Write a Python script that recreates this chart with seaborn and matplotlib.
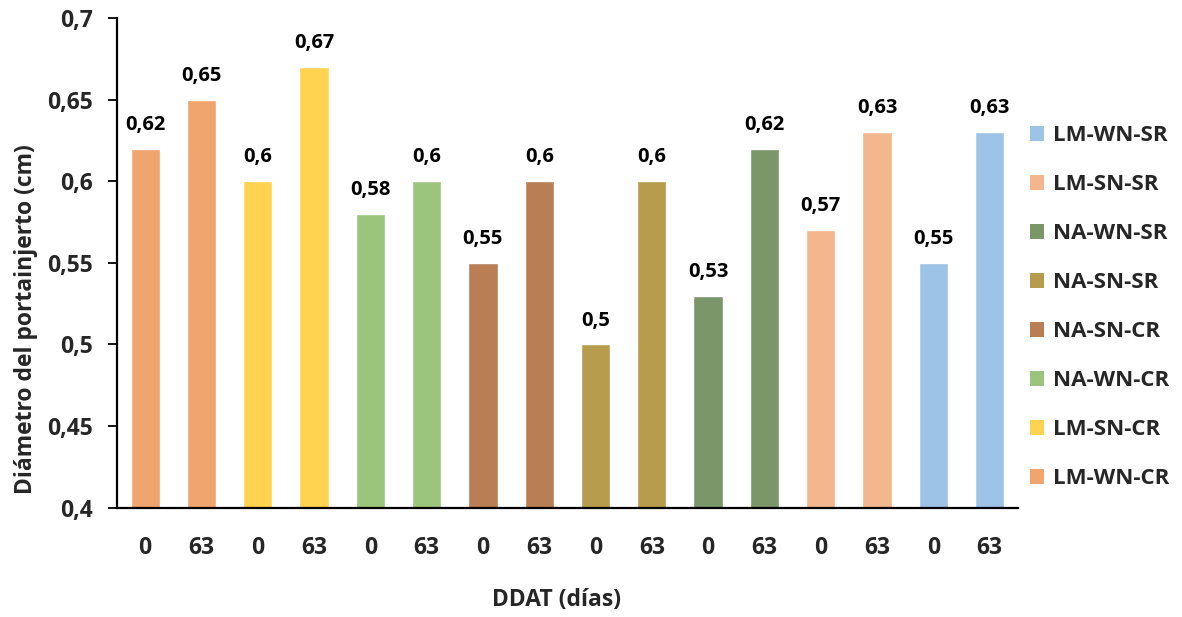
import matplotlib
matplotlib.use("Agg")
import matplotlib.pyplot as plt
import seaborn as sns
import pandas as pd
from matplotlib.patches import Patch
from matplotlib.ticker import FuncFormatter

# Rootstock diameter per treatment, at 0 and 63 days after transplant
treatments = ["LM-WN-CR", "LM-SN-CR", "NA-WN-CR", "NA-SN-CR",
              "NA-SN-SR", "NA-WN-SR", "LM-SN-SR", "LM-WN-SR"]
days = ["0", "63"]
diam_day0 = [0.62, 0.60, 0.58, 0.55, 0.50, 0.53, 0.57, 0.55]
diam_day63 = [0.65, 0.67, 0.60, 0.60, 0.60, 0.62, 0.63, 0.63]
colors = ["#F0A46E", "#FFD34F", "#9BC47C", "#B97E53",
          "#B79C4E", "#7B9669", "#F4B68D", "#9DC3E6"]

rows = []
for t, v0, v63 in zip(treatments, diam_day0, diam_day63):
    rows.append({"tratamiento": t, "dia": days[0], "valor": v0})
    rows.append({"tratamiento": t, "dia": days[1], "valor": v63})
df = pd.DataFrame(rows)
df["pos"] = [str(i) for i in range(len(df))]

sns.set_theme(style="white")
plt.rcParams["font.family"] = ["Open Sans", "DejaVu Sans"]
plt.rcParams["font.weight"] = "bold"

fig = plt.figure(figsize=(11.82, 6.17), dpi=100)
ax = fig.add_axes([0.099, 0.177, 0.762, 0.794])

palette = dict(zip(treatments, colors))
sns.barplot(data=df, x="pos", y="valor", hue="tratamiento", palette=palette,
            dodge=False, width=0.52, saturation=1, ax=ax, legend=False)

ax.set_ylim(0.4, 0.7)
ax.set_xlim(-0.5, len(df) - 0.5)
ax.set_yticks([0.4, 0.45, 0.5, 0.55, 0.6, 0.65, 0.7])


def comma_fmt(v, _=None):
    s = f"{v:.2f}".rstrip("0").rstrip(".")
    return s.replace(".", ",")


ax.yaxis.set_major_formatter(FuncFormatter(comma_fmt))
ax.set_xticks(range(len(df)))
ax.set_xticklabels(df["dia"])

for c in ax.containers:
    ax.bar_label(c, labels=[comma_fmt(b.get_height()) for b in c],
                 padding=10, fontsize=14.5, fontweight="bold", color="black")

for side in ["top", "right"]:
    ax.spines[side].set_visible(False)
for side in ["left", "bottom"]:
    ax.spines[side].set_color("black")
    ax.spines[side].set_linewidth(1.6)

ax.tick_params(axis="y", which="major", left=True, length=6.5, width=1.3,
               color="black", labelsize=16.5, pad=11)
ax.tick_params(axis="x", bottom=False, labelsize=16.5, pad=14)
for lab in ax.get_xticklabels() + ax.get_yticklabels():
    lab.set_fontweight("bold")

ax.set_ylabel("Diámetro del portainjerto (cm)", fontsize=16.5, fontweight="bold")
ax.yaxis.set_label_coords(-0.088, 0.385)
ax.set_xlabel("DDAT (días)", fontsize=16.5, fontweight="bold")
ax.xaxis.set_label_coords(0.488, -0.163)

handles = [Patch(facecolor=palette[t], edgecolor="none") for t in treatments[::-1]]
fig.legend(handles, treatments[::-1], loc="upper left",
           bbox_to_anchor=(0.871, 0.797), frameon=False, borderpad=0,
           borderaxespad=0, handlelength=0.65, handleheight=0.65,
           handletextpad=0.4, labelspacing=1.26,
           prop={"weight": "bold", "size": 16})

fig.savefig("out.png", dpi=100)
